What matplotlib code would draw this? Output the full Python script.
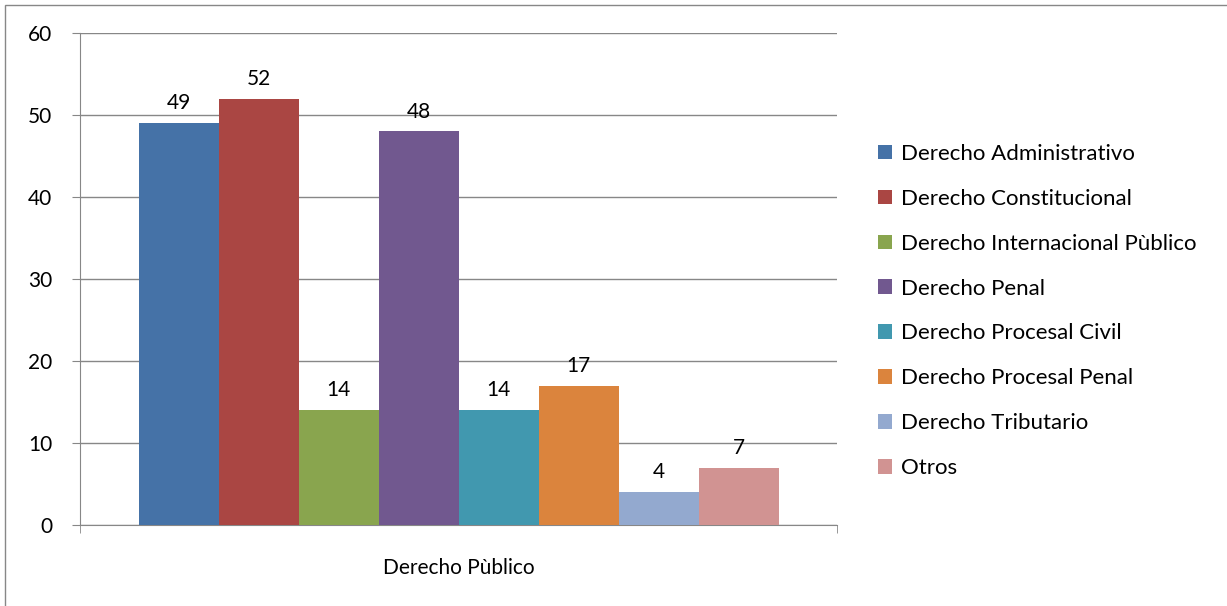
import matplotlib.pyplot as plt
from matplotlib.patches import Rectangle

plt.rcParams['font.family'] = ['Lato', 'DejaVu Sans']

categoria = "Derecho Pùblico"
series = ["Derecho Administrativo", "Derecho Constitucional", "Derecho Internacional Pùblico",
          "Derecho Penal", "Derecho Procesal Civil", "Derecho Procesal Penal",
          "Derecho Tributario", "Otros"]
valores = [49, 52, 14, 48, 14, 17, 4, 7]
colores = ["#4572A7", "#AA4643", "#89A54E", "#71588F", "#4198AF", "#DB843D", "#93A9CF", "#D19392"]

fig = plt.figure(figsize=(12.27, 6.06), dpi=100)
ax = fig.add_axes([80/1227, 81/606, 757/1227, 492/606])

# marco del grafico (sin borde derecho ni inferior visibles)
fig.patches.append(Rectangle((5/1227, -0.05), 1.2, 1 - 5/606 + 0.05, transform=fig.transFigure,
                             fill=False, edgecolor="#878787", linewidth=1))

fs = 15
n = len(valores)
for i in range(n):
    x = i - (n - 1) / 2
    b = ax.bar(x, valores[i], width=1.0, color=colores[i], label=series[i], zorder=3)
    ax.bar_label(b, padding=7, fontsize=fs)

half = 757 / 80 / 2
ax.set_xlim(-half, half)
ax.set_ylim(0, 60)
ax.set_yticks(range(0, 61, 10))
ax.yaxis.grid(True, color="#878787", linewidth=1, zorder=0)
ax.set_xticks([0])
ax.set_xticklabels([categoria])
ax.set_xticks([-half, half], minor=True)
ax.tick_params(axis="x", which="major", length=0, pad=24, labelsize=fs)
ax.tick_params(axis="x", which="minor", length=6, color="#878787", direction="out")
ax.tick_params(axis="y", length=6, color="#878787", labelsize=fs, pad=14)
for s in ["top", "right"]:
    ax.spines[s].set_visible(False)
for s in ["left", "bottom"]:
    ax.spines[s].set_color("#878787")

fig.legend(loc="upper left", bbox_to_anchor=(869/1227, 1 - 135/606), frameon=False,
           fontsize=16, handlelength=0.63, handleheight=0.63, labelspacing=1.12,
           handletextpad=0.4, borderaxespad=0)

fig.savefig("out.png", dpi=100)
